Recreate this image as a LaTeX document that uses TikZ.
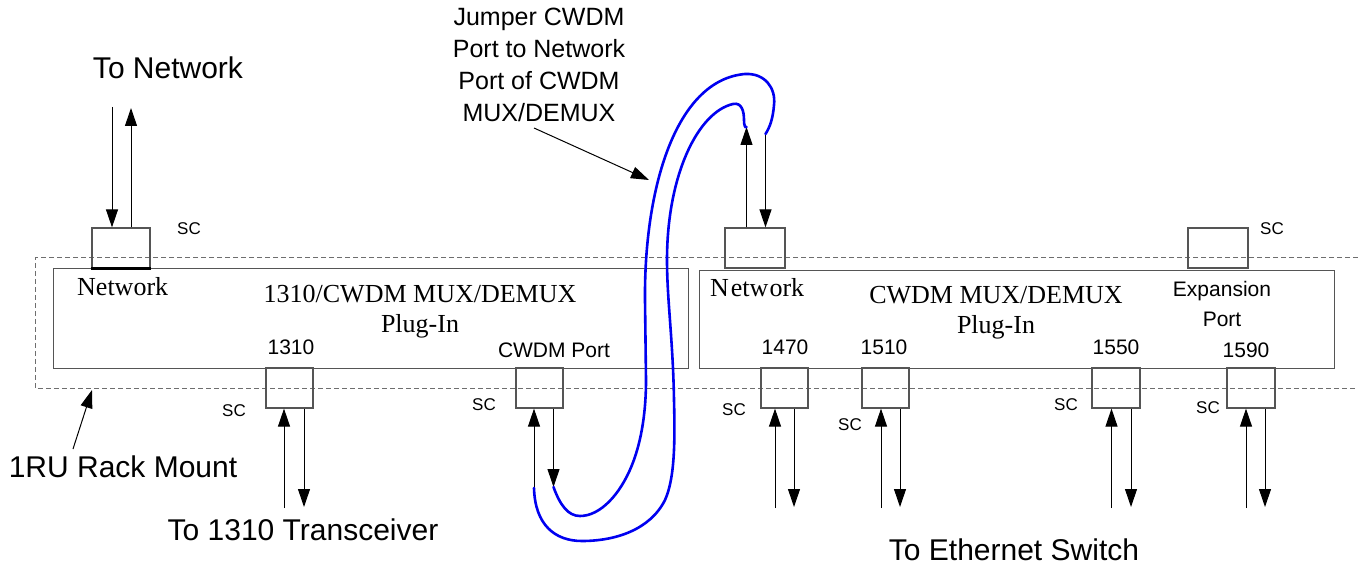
\documentclass[tikz,border=0pt]{standalone}
\usepackage{fontspec}
\setmainfont{Liberation Serif}
\setsansfont{Liberation Sans}
\usetikzlibrary{arrows.meta}
\definecolor{boxgray}{RGB}{85,85,85}
\definecolor{dashgray}{RGB}{110,110,110}
\definecolor{cable}{RGB}{0,0,240}
\begin{document}
\begin{tikzpicture}[x=1pt,y=-1pt,
  plugbox/.style={draw=boxgray, line width=1.3pt, inner sep=0pt, anchor=north west},
  port/.style={draw=boxgray, line width=1.2pt, minimum height=40pt, inner sep=0pt},
  arr/.style={line width=1pt, -{Triangle[length=18pt,width=12pt]}},
  cab/.style={draw=cable, line width=2.6pt, line cap=round},
  big/.style={font=\sffamily\fontsize{30}{34}\selectfont, inner sep=0pt, anchor=base},
  jtxt/.style={font=\sffamily\fontsize{25}{30}\selectfont, inner sep=0pt, anchor=base},
  num/.style={font=\sffamily\fontsize{21}{25}\selectfont, inner sep=0pt, anchor=base},
  sclbl/.style={font=\sffamily\fontsize{17}{20}\selectfont, inner sep=0pt, anchor=base},
  ser/.style={font=\rmfamily\fontsize{26}{30}\selectfont, inner sep=0pt, anchor=base},
  rack/.style={draw=dashgray, line width=1pt, dash pattern=on 5pt off 3pt}
]
\useasboundingbox (0,0) rectangle (1358,564);

% rack mount (dashed)
\draw[rack] (1358,258) -- (35,258) -- (35,388) -- (1358,388);

% plug-in boxes
\node[plugbox, minimum width=635pt, minimum height=100pt] (plugL) at (53,268) {};
\node[plugbox, minimum width=635pt, minimum height=98pt] (plugR) at (699,270) {};

% port boxes
\node[port, minimum width=58pt] (pNetL) at (121,248) {};
\draw[line width=2.4pt] (pNetL.south west) -- (pNetL.south east);
\node[port, minimum width=47pt] (p1310) at (289.5,388) {};
\node[port, minimum width=47pt] (pCWDM) at (539.5,388) {};
\node[port, minimum width=60pt] (pNetR) at (755,248) {};
\node[port, minimum width=60pt] (pExp) at (1218,248) {};
\node[port, minimum width=47pt] (p1470) at (784.5,388) {};
\node[port, minimum width=47pt] (p1510) at (885.5,388) {};
\node[port, minimum width=48pt] (p1550) at (1116,388) {};
\node[port, minimum width=48pt] (p1590) at (1251,388) {};

% texts
\node[big] (tNet) at (168,79) {To Network};
\node[jtxt] (j1) at (539,26) {Jumper CWDM};
\node[jtxt] (j2) at (539,58) {Port to Network};
\node[jtxt] (j3) at (539,90) {Port of CWDM};
\node[jtxt] (j4) at (539,122) {MUX/DEMUX};
\node[ser, anchor=base west] (netL) at (77,295) {Network};
\node[ser] (titL) at (420,302) {1310/CWDM MUX/DEMUX};
\node[ser] (plgL) at (420,332) {Plug-In};
\node[num] (n1310) at (291,354) {1310};
\node[num] (nCW) at (554,357) {CWDM Port};
\node[ser, anchor=base west] (netR) at (710,297) {N\kern2pt etw\kern1pt ork};
\node[ser] (titR) at (996,304) {CWDM MUX/DEMUX};
\node[ser] (plgR) at (996,333) {Plug-In};
\node[num] (exp1) at (1222,297) {Expansion};
\node[num] (exp2) at (1222,326) {Port};
\node[num] (n1470) at (785,354) {1470};
\node[num] (n1510) at (884,354) {1510};
\node[num] (n1550) at (1116,354) {1550};
\node[num] (n1590) at (1246,357) {1590};
\node[sclbl] (sc1) at (189,235) {SC};
\node[sclbl] (sc2) at (1272,235) {SC};
\node[sclbl] (sc3) at (234,416) {SC};
\node[sclbl] (sc4) at (484,410) {SC};
\node[sclbl] (sc5) at (734,415) {SC};
\node[sclbl] (sc6) at (850,430) {SC};
\node[sclbl] (sc7) at (1066,410) {SC};
\node[sclbl] (sc8) at (1208,413) {SC};
\node[big] (rk) at (123,477) {1RU Rack Mount};
\node[big] (t1310) at (303,540) {To 1310 Transceiver};
\node[big] (tEth) at (1014,560) {To Ethernet Switch};

% leaders
\coordinate (rkS) at (73,449);
\coordinate (rkE) at (92,390);
\draw[arr] (rkS) -- (rkE);
\coordinate (jlS) at (534,128);
\coordinate (jlE) at (649,180);
\draw[arr] (jlS) -- (jlE);

% left network port arrows
\coordinate (a1) at (112,107);
\coordinate (a2) at (131,108);
\draw[arr] (a1) -- (a1 |- pNetL.north);
\draw[arr] (a2 |- pNetL.north) -- (a2);

% 1310 port arrows
\coordinate (b1) at (284,508);
\coordinate (b2) at (304,507);
\draw[arr] (b1) -- (b1 |- p1310.south);
\draw[arr] (b2 |- p1310.south) -- (b2);

% CWDM port arrows
\coordinate (cB) at (534,488);
\coordinate (cA) at (553.5,487);
\draw[arr] (cB) -- (cB |- pCWDM.south);
\draw[arr] (cA |- pCWDM.south) -- (cA);

% right network port arrows
\coordinate (dB) at (746.5,127);
\coordinate (dA) at (765.5,134);
\draw[arr] (dB |- pNetR.north) -- (dB);
\draw[arr] (dA) -- (dA |- pNetR.north);

% channel ports
\foreach \p/\u/\d in {p1470/775/794, p1510/881/900, p1550/1111.5/1131, p1590/1246/1265}{
  \coordinate (u\p) at (\u,508);
  \coordinate (d\p) at (\d,507);
  \draw[arr] (u\p) -- (u\p |- \p.south);
  \draw[arr] (d\p |- \p.south) -- (d\p);
}

% jumper cable
\draw[cab] (cA) .. controls (560,505) and (568,516) .. (580,516)
  .. controls (600,516) and (620,495) .. (632,465)
  .. controls (642,440) and (646,410) .. (646,380)
  -- (645,300)
  .. controls (644,190) and (675,80) .. (745,74)
  .. controls (765,73) and (776,88) .. (774,105)
  .. controls (773,118) and (770,127) .. (dA);
\draw[cab] (cB) .. controls (535,525) and (555,541) .. (582,541)
  .. controls (615,541) and (650,530) .. (665,500)
  .. controls (675,478) and (675,440) .. (674,400)
  .. controls (673,340) and (667,300) .. (667,260)
  .. controls (667,175) and (698,112) .. (733,104)
  .. controls (742,102) and (744,112) .. (744,120)
  .. controls (744,125) and (745,128) .. (dB);

\end{tikzpicture}
\end{document}
